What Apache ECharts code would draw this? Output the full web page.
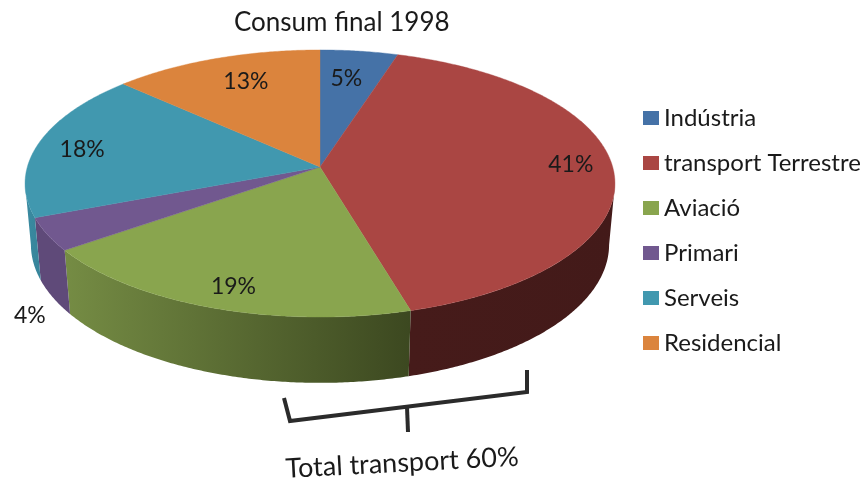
<!DOCTYPE html>
<html>
<head>
<meta charset="utf-8">
<style>html,body{margin:0;padding:0;background:#fff}#c{width:865px;height:484px}</style>
<script src="https://cdn.jsdelivr.net/npm/echarts@6/dist/echarts.min.js"></script>
</head>
<body>
<div id="c"></div>
<script>
const titleText = 'Consum final 1998';
const categories = ['Indústria', 'transport Terrestre', 'Aviació', 'Primari', 'Serveis', 'Residencial'];
const values = [4.8, 40.8, 19.4, 4, 18, 13];
const percentLabels = ['5%', '41%', '19%', '4%', '18%', '13%'];
const bracketLabel = 'Total transport 60%';

const topColors = ['#4572A7', '#AA4643', '#89A54E', '#71588F', '#4198AF', '#DB843D'];
const sideColors = [['#34557d', '#34557d'], ['#461b1a', '#431a19'], ['#758c44', '#3c4820'],
                    ['#5f4a79', '#5f4a79'], ['#3a8ba1', '#37849a'], ['#a4632e', '#a4632e']];
// label placement relative to each slice's middle: [radius fraction, angle shift in degrees]
const labelPlace = [[0.736, -1], [0.859, -2], [0.857, -1], [1.32, -20], [0.836, -1.8], [0.754, 2]];

// projection of the tilted disc
const cx = 320, cy = 167, R = 292.7, Ry = 131.5, persp = 0.1236, depth = 62, dropPersp = 0.02;
function project(deg, r, z) {
  const a = deg * Math.PI / 180;
  const u = Math.sin(a) * r, v = -Math.cos(a) * r;
  const s = 1 / (1 - persp * v + dropPersp * z);
  return [cx + R * u * s, cy + (Ry * v + depth * z) * s];
}
const frontStart = Math.acos(-persp) * 180 / Math.PI, frontEnd = 360 - frontStart;
function arc(a0, a1, z) {
  const pts = [], n = Math.max(2, Math.ceil(Math.abs(a1 - a0) * 2));
  for (let i = 0; i <= n; i++) pts.push(project(a0 + (a1 - a0) * i / n, 1, z));
  return pts;
}

const total = values.reduce((a, b) => a + b, 0);
let acc = 0;
const series = categories.map((name, idx) => {
  const start = acc / total * 360; acc += values[idx]; const end = acc / total * 360;
  return {
    type: 'custom', name, coordinateSystem: 'none', silent: true,
    itemStyle: { color: topColors[idx] },
    data: [[start, end]],
    renderItem(params, api) {
      const a0 = api.value(0), a1 = api.value(1), color = api.visual('color');
      const children = [];
      const f0 = Math.max(a0, frontStart), f1 = Math.min(a1, frontEnd);
      if (f1 > f0) {
        const pts = arc(f0, f1, 0).concat(arc(f1, f0, 1));
        const fill = new echarts.graphic.LinearGradient(0, 0, 1, 0, [
          { offset: 0, color: sideColors[idx][0] }, { offset: 1, color: sideColors[idx][1] }]);
        children.push({ type: 'polygon', shape: { points: pts }, style: { fill, stroke: null } });
      }
      const topPts = [project(0, 0, 0)].concat(arc(a0, a1, 0));
      children.push({ type: 'polygon', z2: 2, shape: { points: topPts }, style: { fill: color, stroke: color, lineWidth: 0.4 } });
      const p = project((a0 + a1) / 2 + labelPlace[idx][1], labelPlace[idx][0], 0);
      children.push({ type: 'text', z2: 5, x: p[0], y: p[1], style: {
        text: percentLabels[idx], fill: '#1a1a1a', font: '23px Lato', align: 'center', verticalAlign: 'middle' } });
      return { type: 'group', children };
    }
  };
});

const bracketStroke = { stroke: '#2b2b2b', lineWidth: 4, fill: null, lineJoin: 'miter' };
const chart = echarts.init(document.getElementById('c'), null, { renderer: 'canvas' });
chart.setOption({
  animation: false,
  backgroundColor: '#fff',
  title: { text: titleText, left: 229, top: 5, textStyle: { fontFamily: 'Lato', fontSize: 26, fontWeight: 'normal', color: '#1a1a1a' } },
  legend: {
    orient: 'vertical', left: 638, top: 101, itemWidth: 16, itemHeight: 14, itemGap: 21,
    icon: 'rect', selectedMode: false, data: categories,
    textStyle: { fontFamily: 'Lato', fontSize: 24, color: '#1a1a1a' }
  },
  series,
  graphic: [
    { type: 'polyline', shape: { points: [[284, 398], [290, 421], [527, 392], [527, 370]] }, style: bracketStroke },
    { type: 'polyline', shape: { points: [[407, 407], [408, 432]] }, style: bracketStroke },
    { type: 'text', x: 402, y: 463, rotation: 3 * Math.PI / 180, style: {
      text: bracketLabel, fill: '#1a1a1a', font: '27px Lato', align: 'center', verticalAlign: 'middle' } }
  ]
});
</script>
</body>
</html>
